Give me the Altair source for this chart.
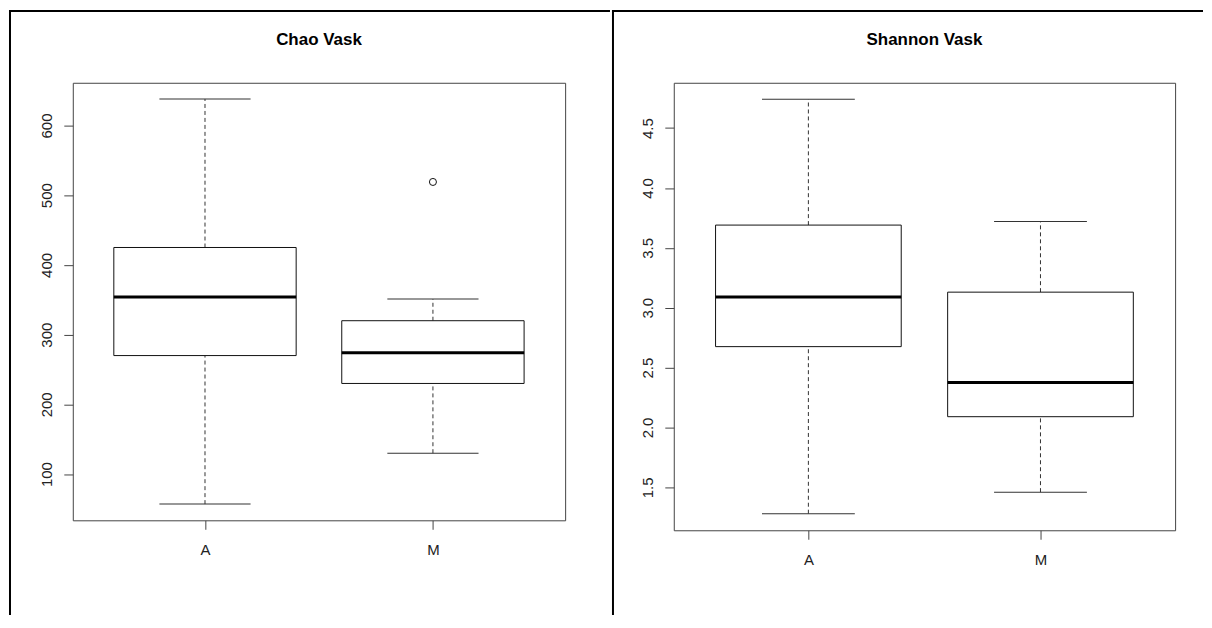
import altair as alt
import pandas as pd

groups = ["A", "M"]

# Chao Vask
chao_lo = [57, 130]
chao_q1 = [270, 230]
chao_med = [354, 274]
chao_q3 = [425, 320]
chao_hi = [638, 351]
chao_out_group = ["M"]
chao_out_val = [519]
chao_ticks = [100, 200, 300, 400, 500, 600]

# Shannon Vask
shan_lo = [1.28, 1.46]
shan_q1 = [2.675, 2.09]
shan_med = [3.09, 2.375]
shan_q3 = [3.69, 3.13]
shan_hi = [4.74, 3.72]
shan_out_group = []
shan_out_val = []
shan_ticks = [1.5, 2.0, 2.5, 3.0, 3.5, 4.0, 4.5]

FONT = "Liberation Sans"
PAD = 0.58


def panel(title, lo, q1, med, q3, hi, og, ov, ticks, fmt, w, h, frame_left, frame_right):
    df = pd.DataFrame({"g": groups, "lo": lo, "q1": q1, "med": med, "q3": q3, "hi": hi})
    vals = list(lo) + list(hi) + list(ov)
    mn, mx = min(vals), max(vals)
    ext = 0.04 * (mx - mn)
    step = w / (len(groups) - 1 + 2 * PAD)

    xenc = alt.X(
        "g:N",
        scale=alt.Scale(type="point", domain=groups, padding=PAD),
        axis=alt.Axis(title=None, labelAngle=0, tickSize=9, labelPadding=13,
                      labelFontSize=15, domain=False, grid=False),
    )
    yscale = alt.Scale(domain=[mn - ext, mx + ext], nice=False, zero=False)
    yaxis = alt.Axis(title=None, values=ticks, format=fmt, labelAngle=270,
                     labelAlign="center", labelBaseline="alphabetic", tickSize=9,
                     labelPadding=12, labelFontSize=15, grid=False, domain=False)

    def Y(f):
        return alt.Y(f + ":Q", scale=yscale, axis=yaxis)

    base = alt.Chart(df)
    wu = base.mark_rule(strokeDash=[4, 3], color="#333", strokeWidth=1).encode(
        x=xenc, y=Y("q3"), y2="hi:Q")
    wd = base.mark_rule(strokeDash=[4, 3], color="#333", strokeWidth=1).encode(
        x=xenc, y=Y("lo"), y2="q1:Q")
    box = base.mark_bar(size=0.8 * step, fill="white", stroke="#111", strokeWidth=1).encode(
        x=xenc, y=Y("q1"), y2="q3:Q")
    medm = base.mark_tick(size=0.8 * step, thickness=3, color="black", opacity=1).encode(
        x=xenc, y=Y("med"))
    caph = base.mark_tick(size=0.4 * step, thickness=1, color="#333", opacity=1).encode(
        x=xenc, y=Y("hi"))
    capl = base.mark_tick(size=0.4 * step, thickness=1, color="#333", opacity=1).encode(
        x=xenc, y=Y("lo"))
    layers = [wu, wd, box, medm, caph, capl]
    if len(ov) > 0:
        odf = pd.DataFrame({"g": og, "v": ov})
        pts = alt.Chart(odf).mark_point(shape="circle", filled=False, size=50,
                                        color="#111", strokeWidth=1, opacity=1).encode(
            x=xenc, y=Y("v"))
        layers.append(pts)

    fdf = pd.DataFrame({"k": [0]})
    fv = alt.Chart(fdf).mark_rule(color="black", strokeWidth=2, strokeCap="square").encode(
        x=alt.value(frame_left), y=alt.value(-72), y2=alt.value(533))
    fh = alt.Chart(fdf).mark_rule(color="black", strokeWidth=2, strokeCap="square").encode(
        x=alt.value(frame_left), x2=alt.value(frame_right), y=alt.value(-72))
    ttl = alt.Chart(fdf).mark_text(
        text=title, font=FONT, fontSize=17, fontWeight="bold", color="black",
        align="center", baseline="alphabetic",
    ).encode(x=alt.value(w / 2), y=alt.value(-38))
    layers += [fv, fh, ttl]

    return alt.layer(*layers).properties(width=w, height=h)


left = panel("Chao Vask", chao_lo, chao_q1, chao_med, chao_q3, chao_hi,
             chao_out_group, chao_out_val, chao_ticks, "d", 494, 439, -63, 538)
right = panel("Shannon Vask", shan_lo, shan_q1, shan_med, shan_q3, shan_hi,
              shan_out_group, shan_out_val, shan_ticks, ".1f", 503, 449, -61, 530)

chart = alt.hconcat(left, right, spacing=0).properties(
    padding=0, background="white"
).configure_view(
    stroke="#444", strokeWidth=1
).configure_axis(
    labelFont=FONT, labelColor="#222", tickColor="#444", tickWidth=1
)

chart.save("out.html", embed_options={"renderer": "svg", "actions": False})
